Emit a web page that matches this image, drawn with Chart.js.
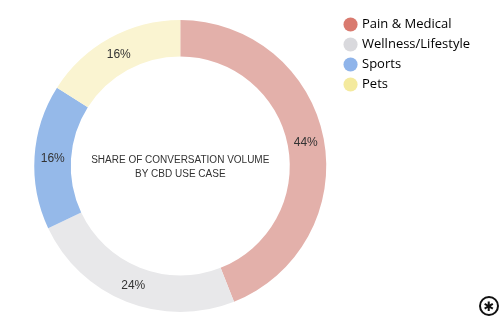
<!DOCTYPE html>
<html>
<head>
<meta charset="utf-8">
<script src="https://cdn.jsdelivr.net/npm/chart.js@4"></script>
<style>
  html, body { margin: 0; padding: 0; background: #fff; }
  .wrap { position: relative; width: 500px; height: 330px; }
  .logo {
    position: absolute; left: 479px; top: 296px; width: 16px; height: 16px;
    border: 2px solid #111; border-radius: 50%;
    font: bold 13px "DejaVu Sans"; line-height: 17px; text-align: center; color: #111;
  }
</style>
</head>
<body>
<div class="wrap">
  <canvas id="donut" width="500" height="330"></canvas>
  <div class="logo">✱</div>
</div>
<script>
  const categories = ['Pain & Medical', 'Wellness/Lifestyle', 'Sports', 'Pets'];
  const shares = [44, 24, 16, 16];
  const sliceColors = ['#e3b0aa', '#e8e8ea', '#95b9e9', '#faf4d1'];
  const legendColors = ['#d97a6f', '#d9d9dd', '#8fb4ea', '#f4ea9e'];
  const centerText = ['SHARE OF CONVERSATION VOLUME', 'BY CBD USE CASE'];

  // 퍼센트 라벨 + 가운데 텍스트
  const labelPlugin = {
    id: 'labelPlugin',
    afterDatasetsDraw(chart) {
      const c = chart.ctx;
      const meta = chart.getDatasetMeta(0);
      c.save();
      c.fillStyle = '#333';
      c.textAlign = 'center';
      c.textBaseline = 'middle';
      c.font = '12px "Liberation Sans", Arial';
      meta.data.forEach((arc, i) => {
        const p = arc.tooltipPosition();
        c.fillText(shares[i] + '%', p.x, p.y + 1);
      });
      const first = meta.data[0];
      c.font = '10px "Liberation Sans", Arial';
      c.fillText(centerText[0], first.x, first.y - 6);
      c.fillText(centerText[1], first.x, first.y + 8);
      c.restore();
    }
  };

  const ctx = document.getElementById('donut');
  const donut = new Chart(ctx, {
    type: 'doughnut',
    data: {
      labels: categories,
      datasets: [{
        data: shares,
        backgroundColor: sliceColors,
        borderWidth: 0,
        hoverOffset: 0
      }]
    },
    options: {
      responsive: false,
      animation: false,
      radius: 146,
      cutout: '75%',
      layout: { padding: { left: 22, top: 11, bottom: 9, right: 20 } },
      plugins: {
        tooltip: { enabled: false },
        legend: {
          position: 'right',
          align: 'start',
          labels: {
            usePointStyle: true,
            pointStyle: 'circle',
            boxWidth: 10,
            boxHeight: 10,
            padding: 7,
            color: '#333',
            font: { size: 13, family: '"Open Sans", Lato, sans-serif' },
            generateLabels: (chart) => categories.map((name, i) => ({
              text: name,
              fillStyle: legendColors[i],
              strokeStyle: legendColors[i],
              lineWidth: 0,
              pointStyle: 'circle',
              hidden: false,
              index: i
            }))
          }
        }
      }
    },
    plugins: [labelPlugin]
  });
</script>
</body>
</html>
